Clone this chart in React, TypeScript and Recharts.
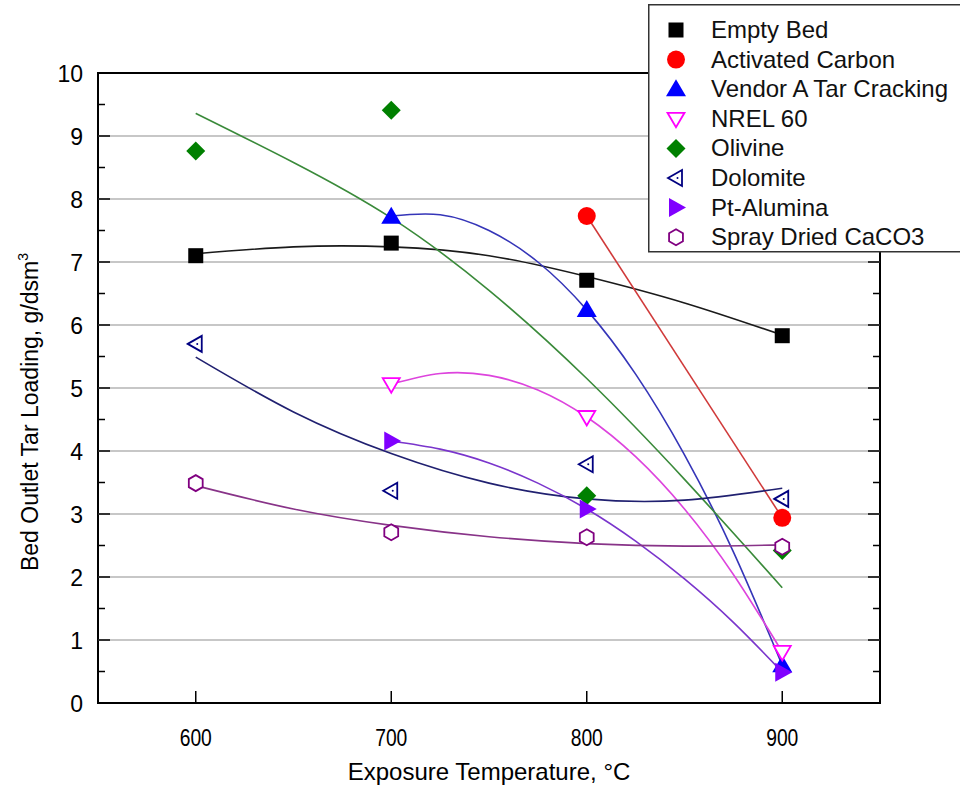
import {
  ComposedChart,
  Line,
  Scatter,
  XAxis,
  YAxis,
  ReferenceLine,
  ReferenceArea,
  Legend,
} from "recharts";

const FONT = "'Liberation Sans', Arial, sans-serif";

// plot box in page pixels
const PLOT_LEFT = 98;
const PLOT_RIGHT = 880;
const PLOT_TOP = 73;
const PLOT_BOTTOM = 703;

const X_TICKS = [600, 700, 800, 900];
const Y_TICKS = [0, 0.5, 1, 1.5, 2, 2.5, 3, 3.5, 4, 4.5, 5, 5.5, 6, 6.5, 7, 7.5, 8, 8.5, 9, 9.5, 10];
const GRID_Y = [1, 2, 3, 4, 5, 6, 7, 8, 9];

// measured points
const T_ALL = [600, 700, 800, 900];
const T_HIGH = [700, 800, 900];
const T_TOP = [800, 900];

const EMPTY_BED = [7.1, 7.3, 6.71, 5.83];
const ACTIVATED_CARBON = [7.73, 2.94];
const VENDOR_A = [7.72, 6.24, 0.6];
const NREL_60 = [5.06, 4.54, 0.81];
const OLIVINE = [8.76, 9.41, 3.29, 2.42];
const DOLOMITE = [5.7, 3.37, 3.79, 3.24];
const PT_ALUMINA = [4.16, 3.08, 0.49];
const SPRAY_CACO3 = [3.49, 2.71, 2.63, 2.48];

// fitted curves
const FIT_T_FULL = [600, 650, 700, 750, 800, 850, 900];
const FIT_T_HALF = [700, 725, 750, 775, 800, 825, 850, 875, 900];

const EMPTY_BED_FIT = [7.13, 7.24, 7.24, 7.1, 6.77, 6.35, 5.84];
const OLIVINE_FIT = [9.36, 8.58, 7.7, 6.55, 5.15, 3.55, 1.83];
const DOLOMITE_FIT = [5.49, 4.62, 3.96, 3.49, 3.24, 3.22, 3.41];
const SPRAY_FIT = [3.45, 3.08, 2.82, 2.64, 2.53, 2.49, 2.51];
const VENDOR_A_FIT = [7.73, 7.75, 7.5, 7.0, 6.24, 5.22, 3.94, 2.4, 0.6];
const NREL_FIT = [5.06, 5.23, 5.2, 4.97, 4.54, 3.91, 3.08, 2.04, 0.81];
const PT_FIT = [4.16, 4.03, 3.81, 3.49, 3.08, 2.57, 1.97, 1.28, 0.49];
const CARBON_FIT = [7.73, 2.94];

const pts = (xs: number[], ys: number[]) => xs.map((x, i) => ({ x, y: ys[i] }));

type Kind = "square" | "circle" | "triUp" | "triDown" | "diamond" | "triLeft" | "triRight" | "hex";

const SERIES = [
  { name: "Empty Bed", kind: "square" as Kind, color: "#000000", line: "#1a1a1a", data: pts(T_ALL, EMPTY_BED), fit: pts(FIT_T_FULL, EMPTY_BED_FIT) },
  { name: "Activated Carbon", kind: "circle" as Kind, color: "#ff0000", line: "#d03a3a", data: pts(T_TOP, ACTIVATED_CARBON), fit: pts(T_TOP, CARBON_FIT) },
  { name: "Vendor A Tar Cracking", kind: "triUp" as Kind, color: "#0000ff", line: "#3535b8", data: pts(T_HIGH, VENDOR_A), fit: pts(FIT_T_HALF, VENDOR_A_FIT) },
  { name: "NREL 60", kind: "triDown" as Kind, color: "#ff00ff", line: "#dd44dd", data: pts(T_HIGH, NREL_60), fit: pts(FIT_T_HALF, NREL_FIT) },
  { name: "Olivine", kind: "diamond" as Kind, color: "#008000", line: "#3a8a3a", data: pts(T_ALL, OLIVINE), fit: pts(FIT_T_FULL, OLIVINE_FIT) },
  { name: "Dolomite", kind: "triLeft" as Kind, color: "#000080", line: "#202070", data: pts(T_ALL, DOLOMITE), fit: pts(FIT_T_FULL, DOLOMITE_FIT) },
  { name: "Pt-Alumina", kind: "triRight" as Kind, color: "#8000ff", line: "#7a35cc", data: pts(T_HIGH, PT_ALUMINA), fit: pts(FIT_T_HALF, PT_FIT) },
  { name: "Spray Dried CaCO3", kind: "hex" as Kind, color: "#800080", line: "#883388", data: pts(T_ALL, SPRAY_CACO3), fit: pts(FIT_T_FULL, SPRAY_FIT) },
];

function Marker({ kind, color, cx, cy }: { kind: Kind; color: string; cx: number; cy: number }) {
  if (cx == null || cy == null) return null;
  switch (kind) {
    case "square":
      return <rect x={cx - 7.5} y={cy - 7.5} width={15} height={15} fill={color} />;
    case "circle":
      return <circle cx={cx} cy={cy} r={9} fill={color} />;
    case "triUp":
      return <polygon points={`${cx},${cy - 10} ${cx + 10},${cy + 7} ${cx - 10},${cy + 7}`} fill={color} />;
    case "triDown":
      return (
        <polygon
          points={`${cx - 8.5},${cy - 6} ${cx + 8.5},${cy - 6} ${cx},${cy + 8.5}`}
          fill="#fff"
          stroke={color}
          strokeWidth={1.8}
        />
      );
    case "diamond":
      return <polygon points={`${cx},${cy - 9.5} ${cx + 9.5},${cy} ${cx},${cy + 9.5} ${cx - 9.5},${cy}`} fill={color} />;
    case "triLeft":
      return (
        <g>
          <polygon
            points={`${cx - 8},${cy} ${cx + 6},${cy - 8} ${cx + 6},${cy + 8}`}
            fill="#fff"
            stroke={color}
            strokeWidth={1.8}
          />
          <circle cx={cx + 1.5} cy={cy} r={1} fill={color} />
        </g>
      );
    case "triRight":
      return <polygon points={`${cx + 10},${cy} ${cx - 7},${cy - 9.5} ${cx - 7},${cy + 9.5}`} fill={color} />;
    case "hex": {
      const r = 8;
      const p = [0, 1, 2, 3, 4, 5]
        .map((i) => {
          const a = (Math.PI / 3) * i - Math.PI / 2;
          return `${cx + r * Math.cos(a)},${cy + r * Math.sin(a)}`;
        })
        .join(" ");
      return <polygon points={p} fill="#fff" stroke={color} strokeWidth={1.8} />;
    }
  }
  return null;
}

function YTick(props: any) {
  const { y, payload } = props;
  const major = Number.isInteger(payload.value);
  const len = major ? 12 : 7;
  return (
    <g>
      <line x1={PLOT_LEFT} x2={PLOT_LEFT + len} y1={y} y2={y} stroke="#000" strokeWidth={1.5} />
      <line x1={PLOT_RIGHT - len} x2={PLOT_RIGHT} y1={y} y2={y} stroke="#000" strokeWidth={1.5} />
      {major && (
        <text x={83} y={y + 8.5} textAnchor="end" fontSize={23} fontFamily={FONT} fill="#000">
          {payload.value}
        </text>
      )}
    </g>
  );
}

// tick labels in the source look slightly condensed
function XTick(props: any) {
  const { x, payload } = props;
  return (
    <g>
      <line x1={x} x2={x} y1={PLOT_BOTTOM} y2={PLOT_BOTTOM - 12} stroke="#000" strokeWidth={1.5} />
      <text
        transform={`translate(${x}, 746) scale(0.84, 1)`}
        textAnchor="middle"
        fontSize={23}
        fontFamily={FONT}
        fill="#000"
      >
        {payload.value}
      </text>
    </g>
  );
}

function LegendBox() {
  return (
    <svg width={320} height={250} style={{ display: "block" }}>
      <rect x={0.75} y={0.75} width={330} height={247} fill="#fff" stroke="#333" strokeWidth={1.5} />
      {SERIES.map((s, i) => {
        const cy = 26 + i * 29.6;
        return (
          <g key={s.name}>
            <Marker kind={s.kind} color={s.color} cx={28} cy={cy} />
            <text x={63} y={cy + 8} fontSize={24} fontFamily={FONT} fill="#111">
              {s.name}
            </text>
          </g>
        );
      })}
    </svg>
  );
}

export default function App() {
  return (
    <div style={{ position: "absolute", left: 0, top: 0, width: 960, height: 787, background: "#fff" }}>
      <ComposedChart
        width={960}
        height={787}
        margin={{ top: PLOT_TOP, right: 960 - PLOT_RIGHT, bottom: 0, left: 0 }}
      >
        {GRID_Y.map((v) => (
          <ReferenceLine key={v} y={v} stroke="#b4b4b4" strokeWidth={1.5} />
        ))}
        <XAxis
          type="number"
          dataKey="x"
          domain={[550, 950]}
          ticks={X_TICKS}
          interval={0}
          height={787 - PLOT_BOTTOM}
          axisLine={false}
          tickLine={false}
          tick={<XTick />}
          label={{
            value: "Exposure Temperature, °C",
            position: "insideBottom",
            offset: 7,
            fontSize: 24,
            fontFamily: FONT,
            fill: "#000",
          }}
        />
        <YAxis
          type="number"
          dataKey="y"
          domain={[0, 10]}
          ticks={Y_TICKS}
          interval={0}
          width={PLOT_LEFT}
          axisLine={false}
          tickLine={false}
          tick={<YTick />}
          label={() => (
            <text
              transform={`translate(38, 412) rotate(-90)`}
              textAnchor="middle"
              fontSize={23}
              fontFamily={FONT}
              fill="#000"
            >
              Bed Outlet Tar Loading, g/dsm
              <tspan dy={-10} fontSize={14}>3</tspan>
            </text>
          )}
        />
        <ReferenceArea x1={550} x2={950} y1={0} y2={10} fill="none" stroke="#000" strokeWidth={2} />
        {SERIES.map((s) => (
          <Line
            key={`fit-${s.name}`}
            data={s.fit}
            dataKey="y"
            type="natural"
            stroke={s.line}
            strokeWidth={1.6}
            dot={false}
            activeDot={false}
            legendType="none"
            isAnimationActive={false}
          />
        ))}
        {SERIES.map((s) => (
          <Scatter
            key={`pt-${s.name}`}
            name={s.name}
            data={s.data}
            fill={s.color}
            isAnimationActive={false}
            shape={(p: any) => <Marker kind={s.kind} color={s.color} cx={p.cx} cy={p.cy} />}
          />
        ))}
        <Legend
          layout="vertical"
          align="center"
          verticalAlign="middle"
          wrapperStyle={{ left: 648, top: 4, width: 320, height: 250 }}
          content={() => <LegendBox />}
        />
      </ComposedChart>
    </div>
  );
}
